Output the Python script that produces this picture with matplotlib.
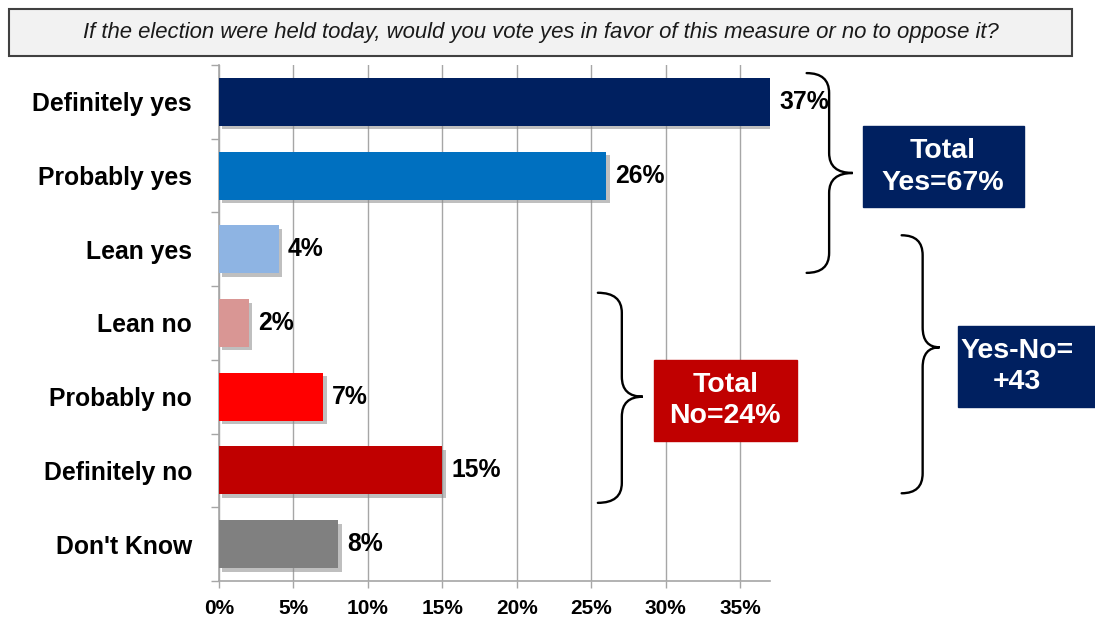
import matplotlib.pyplot as plt
import matplotlib.patheffects as pe
from matplotlib.patches import Rectangle, PathPatch
from matplotlib.path import Path
from matplotlib.ticker import FixedLocator

plt.rcParams["font.family"] = ["Liberation Sans", "DejaVu Sans"]

# survey results
question = "If the election were held today, would you vote yes in favor of this measure or no to oppose it?"
categories = ["Definitely yes", "Probably yes", "Lean yes", "Lean no",
              "Probably no", "Definitely no", "Don't Know"]
shares = [37, 26, 4, 2, 7, 15, 8]
bar_colors = ["#002060", "#0070C0", "#8EB4E3", "#D99694",
              "#FF0000", "#C00000", "#808080"]
x_ticks = [0, 5, 10, 15, 20, 25, 30, 35]

total_yes = sum(shares[:3])
total_no = sum(shares[3:6])
margin = total_yes - total_no

NAVY = "#002060"
DARK_RED = "#C00000"
GRID = "#A6A6A6"


def draw_brace(ax, x_tip, x_spine, x_point, y_top, y_bottom, y_point, ry=0.27):
    """Right-facing curly brace in data coordinates (y axis inverted)."""
    verts = [
        (x_tip, y_top), (x_spine, y_top), (x_spine, y_top + ry),
        (x_spine, y_point - ry),
        (x_spine, y_point), (x_point, y_point),
        (x_spine, y_point), (x_spine, y_point + ry),
        (x_spine, y_bottom - ry),
        (x_spine, y_bottom), (x_tip, y_bottom),
    ]
    codes = [Path.MOVETO, Path.CURVE3, Path.CURVE3, Path.LINETO,
             Path.CURVE3, Path.CURVE3, Path.CURVE3, Path.CURVE3,
             Path.LINETO, Path.CURVE3, Path.CURVE3]
    ax.add_patch(PathPatch(Path(verts, codes), fill=False, lw=1.7,
                           ec="black", clip_on=False, zorder=5,
                           capstyle="round"))


def draw_callout(ax, x0, x1, y0, y1, color, label, text_x=None):
    ax.add_patch(Rectangle((x0, y0), x1 - x0, y1 - y0, fc=color, ec=color,
                           clip_on=False, zorder=6))
    tx = (x0 + x1) / 2 if text_x is None else text_x
    ax.text(tx, (y0 + y1) / 2, label, ha="center", va="center",
            color="white", fontsize=20.5, fontweight="bold",
            linespacing=1.28, zorder=7)


fig = plt.figure(figsize=(10.95, 6.19), dpi=100)
ax = fig.add_axes([0.2, 0.0614, 0.5032, 0.8336])

# question banner
fig.patches.append(Rectangle((0.0082, 0.9095), 0.9708, 0.0759,
                             transform=fig.transFigure, fc="#F2F2F2",
                             ec="#404040", lw=1.5))
fig.text(0.4936, 0.9475, question, ha="center", va="center",
         fontsize=15.9, style="italic", color="#1a1a1a")

ypos = list(range(len(categories)))
bars = ax.barh(ypos, shares, height=0.65, color=bar_colors, zorder=3)
for bar in bars:
    bar.set_path_effects([
        pe.SimplePatchShadow(offset=(2.5, -2.5), shadow_rgbFace="#8c8c8c", alpha=0.55),
        pe.Normal(),
    ])

for y, v in zip(ypos, shares):
    ax.annotate(f"{v}%", (v, y), xytext=(6.5, 0), textcoords="offset points",
                ha="left", va="center", fontsize=17.8, fontweight="bold",
                zorder=8, annotation_clip=False)

ax.set_xlim(0, 37)
ax.set_ylim(len(categories) - 0.5, -0.5)

ax.set_xticks(x_ticks)
ax.set_xticklabels([f"{t}%" for t in x_ticks], fontsize=15, fontweight="bold")
ax.tick_params(axis="x", length=5, width=1, color=GRID, pad=8)

ax.set_yticks(ypos)
ax.set_yticklabels(categories, fontsize=17.8, fontweight="bold")
ax.tick_params(axis="y", which="major", length=0, pad=19.5)
ax.yaxis.set_minor_locator(FixedLocator([i - 0.5 for i in range(len(categories) + 1)]))
ax.tick_params(axis="y", which="minor", length=6, width=1, color=GRID)

ax.grid(axis="x", color=GRID, lw=1)
ax.set_axisbelow(True)
for side in ("top", "right"):
    ax.spines[side].set_visible(False)
for side in ("left", "bottom"):
    ax.spines[side].set_color(GRID)
    ax.spines[side].set_linewidth(1.2)

# groupings
draw_brace(ax, 39.46, 40.97, 42.55, -0.39, 2.32, 0.965)
draw_brace(ax, 25.44, 27.05, 28.46, 2.59, 5.44, 4.00)
draw_brace(ax, 45.84, 47.25, 48.39, 1.81, 5.31, 3.33)

draw_callout(ax, 43.22, 54.03, 0.33, 1.43, NAVY, f"Total\nYes={total_yes}%")
draw_callout(ax, 29.19, 38.79, 3.50, 4.60, DARK_RED, f"Total\nNo={total_no}%")
draw_callout(ax, 49.6, 60.5, 3.04, 4.14, NAVY, f"Yes-No=\n+{margin}", text_x=53.56)

fig.savefig("out.png", dpi=100)
